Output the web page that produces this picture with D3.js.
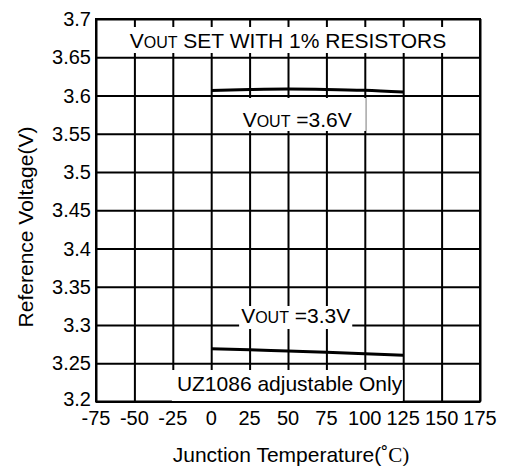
<!DOCTYPE html>
<html>
<head>
<meta charset="utf-8">
<script src="https://cdn.jsdelivr.net/npm/d3@7"></script>
<style>
	body { margin: 0; background: #fff; }
	text { font-family: "Liberation Sans", Arial, sans-serif; fill: #000; }
</style>
</head>
<body>
<svg id="vis" width="507" height="466"></svg>
<script>
// temperature points (C) and measured output voltages
const temps = [0, 25, 50, 75, 100, 125];
const vout36 = [3.6065, 3.6078, 3.6085, 3.6080, 3.6068, 3.6045];
const vout33 = [3.2690, 3.2676, 3.2660, 3.2645, 3.2625, 3.2605];

const xTicks = [-75, -50, -25, 0, 25, 50, 75, 100, 125, 150, 175];
const yTicks = [3.2, 3.25, 3.3, 3.35, 3.4, 3.45, 3.5, 3.55, 3.6, 3.65, 3.7];

const svg = d3.select("svg#vis");

const plot = { left: 96, right: 480, top: 19, bottom: 401.5 };

const x = d3.scaleLinear()
	.domain([-75, 175])
	.range([plot.left, plot.right]);

const y = d3.scaleLinear()
	.domain([3.2, 3.7])
	.range([plot.bottom, plot.top]);

// grid (drawn as full-length ticks)
svg.append("g")
	.attr("transform", translate(0, plot.bottom))
	.call(d3.axisBottom(x).tickValues(xTicks).tickSize(-(plot.bottom - plot.top)).tickSizeOuter(0).tickFormat(""));

svg.append("g")
	.attr("transform", translate(plot.left, 0))
	.call(d3.axisLeft(y).tickValues(yTicks).tickSize(-(plot.right - plot.left)).tickSizeOuter(0).tickFormat(""));

svg.selectAll(".domain").remove();
svg.selectAll(".tick line").attr("stroke", "#000").attr("stroke-width", 2);

// frame
svg.append("rect")
	.attr("x", plot.left)
	.attr("y", plot.top)
	.attr("width", plot.right - plot.left)
	.attr("height", plot.bottom - plot.top)
	.attr("fill", "none")
	.attr("stroke", "#000")
	.attr("stroke-width", 2);

// tick labels
svg.append("g").selectAll("text")
	.data(xTicks)
	.enter()
	.append("text")
	.attr("x", d => x(d))
	.attr("y", 425)
	.attr("text-anchor", "middle")
	.style("font-size", "20px")
	.text(d => d);

svg.append("g").selectAll("text")
	.data(yTicks)
	.enter()
	.append("text")
	.attr("x", 91)
	.attr("y", d => y(d) + (d == 3.2 ? 4 : 7))
	.attr("text-anchor", "end")
	.style("font-size", "20px")
	.text(d => d3.format("")(d));

// axis titles
const xt = svg.append("text")
	.attr("x", 291)
	.attr("y", 462)
	.attr("text-anchor", "middle")
	.style("font-size", "21px");
xt.append("tspan").text("Junction Temperature(");
xt.append("tspan").text("˚");
xt.append("tspan").style("font-family", "'Liberation Serif', serif").text("C)");

svg.append("text")
	.attr("transform", "translate(33,227) rotate(-90)")
	.attr("text-anchor", "middle")
	.style("font-size", "21px")
	.text("Reference Voltage(V)");

// annotations with white backing boxes
// pad = [left, right, top, bottom]
function label(parts, cx, baseline, pad, anchor) {
	const g = svg.append("g");
	const rect = g.append("rect").attr("fill", "#fff");
	const t = g.append("text")
		.attr("x", cx)
		.attr("y", baseline)
		.attr("text-anchor", anchor || "middle");
	parts.forEach(p => {
		t.append("tspan").style("font-size", p[1] + "px").text(p[0]);
	});
	const b = t.node().getBBox();
	rect.attr("x", b.x - pad[0])
		.attr("y", b.y - pad[2])
		.attr("width", b.width + pad[0] + pad[1])
		.attr("height", b.height + pad[2] + pad[3]);
	return g;
}

label([["V", 21], ["OUT", 16], [" SET WITH 1% RESISTORS", 21]], x(50), 48, [4, 4, 2, 1]);
label([["V", 21], ["OUT", 16], [" =3.6V", 21]], x(56), 127, [14, 14, 10, 0]);
label([["V", 21], ["OUT", 16], [" =3.3V", 21]], x(55), 323, [2, 2, -2, 2]);
label([["UZ1086 adjustable Only", 21]], x(125) - 1, 391, [5, 0, 2, 6], "end");

// data lines
const line = d3.line()
	.x((d, i) => x(temps[i]))
	.y(d => y(d))
	.curve(d3.curveMonotoneX);

svg.append("path")
	.datum(vout36)
	.attr("d", line)
	.attr("fill", "none")
	.attr("stroke", "#000")
	.attr("stroke-width", 3);

svg.append("path")
	.datum(vout33)
	.attr("d", line)
	.attr("fill", "none")
	.attr("stroke", "#000")
	.attr("stroke-width", 3);

function translate(a, b) {
	return "translate(" + a + "," + b + ")";
}
</script>
</body>
</html>
